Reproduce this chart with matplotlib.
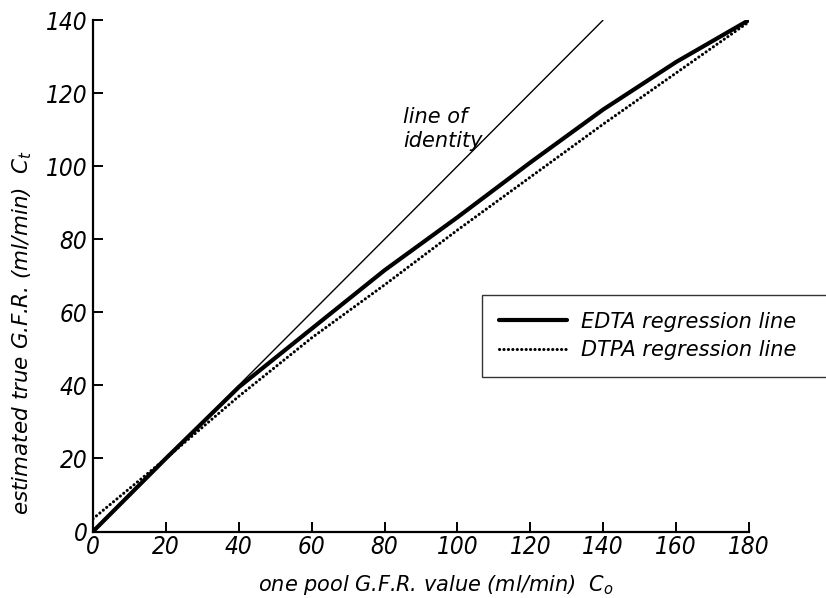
import os
import matplotlib
matplotlib.use("Agg")
import matplotlib.pyplot as plt
from matplotlib import font_manager as fm

# ---- data ----
identity_x = [0, 140]
identity_y = [0, 140]
edta_x = [0, 20, 40, 60, 80, 100, 120, 140, 160, 180]
edta_y = [0, 20, 39.5, 55.5, 71.5, 86, 101, 115.5, 128.5, 140]
dtpa_x = [0, 20, 40, 60, 80, 100, 120, 140, 160, 180]
dtpa_y = [3.5, 20, 37, 53, 67.5, 82.5, 97, 111.5, 125.5, 139.5]
x_ticks = [0, 20, 40, 60, 80, 100, 120, 140, 160, 180]
y_ticks = [0, 20, 40, 60, 80, 100, 120, 140]

# narrow font for tick labels, if a condensed face is installed
narrow = None
for fam in ["Liberation Sans Narrow", "DejaVu Sans", "Noto Sans", "Open Sans"]:
    try:
        f = fm.findfont(fm.FontProperties(family=fam, stretch='condensed', style='italic'),
                        fallback_to_default=False)
        b = os.path.basename(f).lower()
        if 'condensed' in b or 'narrow' in b:
            narrow = fm.FontProperties(fname=f)
            break
    except Exception:
        pass

plt.rcParams['font.family'] = ['DejaVu Sans']
plt.rcParams['font.style'] = 'italic'
plt.rcParams['mathtext.fontset'] = 'custom'
plt.rcParams['mathtext.it'] = 'DejaVu Sans:italic'
plt.rcParams['mathtext.rm'] = 'DejaVu Sans:italic'

fig = plt.figure(figsize=(8.26, 5.98), dpi=100)
ax = fig.add_axes([93/826, 1-531.5/598, (749-93)/826, (531.5-20)/598])

ax.plot(identity_x, identity_y, color='black', lw=1.0, solid_capstyle='butt')
ax.plot(edta_x, edta_y, color='black', lw=3.0, solid_capstyle='round',
        solid_joinstyle='round', label='EDTA regression line')
ax.plot(dtpa_x, dtpa_y, color='black', lw=2.2, linestyle=(0, (0.05, 1.4)),
        dash_capstyle='round', label='DTPA regression line')

ax.set_xlim(0, 180)
ax.set_ylim(0, 140)
ax.set_xticks(x_ticks)
ax.set_yticks(y_ticks)
ax.set_xticklabels([str(v) for v in x_ticks])
ax.set_yticklabels([str(v) for v in y_ticks])
for s in ['top', 'right']:
    ax.spines[s].set_visible(False)
for s in ['left', 'bottom']:
    ax.spines[s].set_linewidth(1.6)
tick_size = 17.5 if narrow is not None else 15.5
ax.tick_params(axis='both', direction='in', length=7, width=1.4, labelsize=tick_size)
ax.tick_params(axis='x', pad=2.5)
ax.tick_params(axis='y', pad=4)
for lab in ax.get_xticklabels() + ax.get_yticklabels():
    if narrow is not None:
        lab.set_fontproperties(narrow)
        lab.set_fontsize(tick_size)
    lab.set_style('italic')

fig.text(436/826, 1-585/598, r'one pool G.F.R. value (ml/min)  $C_o$',
         fontsize=15, ha='center', va='center')
fig.text(22/826, 1-332/598, r'estimated true G.F.R. (ml/min)  $C_t$',
         fontsize=15.5, ha='center', va='center', rotation=90)

ax.text((403-93)/(749-93)*180, (531.5-107)/(531.5-20)*140, 'line of\nidentity',
        fontsize=15, ha='left', va='top', linespacing=1.25)

leg = fig.legend(loc='upper left',
                 bbox_to_anchor=(482/826, 1-295/598-0.01, 360/826, 0.01),
                 mode='expand',
                 bbox_transform=fig.transFigure, borderaxespad=0,
                 fontsize=15, frameon=True, fancybox=False, edgecolor='black',
                 handlelength=3.3, handletextpad=0.65, labelspacing=0.4,
                 borderpad=0.8)
leg.get_frame().set_linewidth(1.0)

fig.savefig('out.png', dpi=100)
